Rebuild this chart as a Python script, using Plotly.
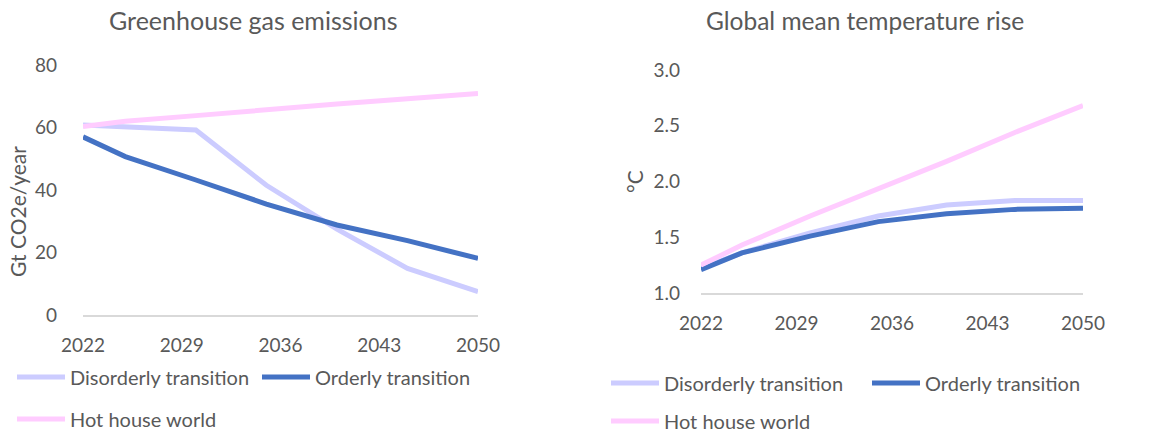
import plotly.graph_objects as go

years = [2022, 2025, 2030, 2035, 2040, 2045, 2050]
tick_years = [2022, 2029, 2036, 2043, 2050]

# Greenhouse gas emissions, Gt CO2e/year
ghg_disorderly = [60.8, 60.3, 59.2, 41.5, 27.5, 14.9, 7.5]
ghg_orderly = [57.0, 50.7, 43.2, 35.5, 28.8, 23.8, 18.1]
ghg_hothouse = [60.3, 62.0, 63.8, 65.8, 67.5, 69.2, 70.9]

# Global mean temperature rise, °C
temp_disorderly = [1.22, 1.36, 1.54, 1.69, 1.79, 1.83, 1.83]
temp_orderly = [1.21, 1.36, 1.51, 1.64, 1.71, 1.75, 1.76]
temp_hothouse = [1.25, 1.43, 1.69, 1.93, 2.18, 2.44, 2.68]

names = ["Disorderly transition", "Orderly transition", "Hot house world"]
colors = ["#CCCCFF", "#4472C4", "#FFCCFF"]

W, H = 1176, 434
TXT = "#595959"
FONT = "Lato"


def px_x(p):
    return p / W


def px_y(p):
    return 1 - p / H


fig = go.Figure()

left = [ghg_disorderly, ghg_orderly, ghg_hothouse]
right = [temp_disorderly, temp_orderly, temp_hothouse]
for i, (vals, name, col) in enumerate(zip(left, names, colors)):
    fig.add_trace(go.Scatter(
        x=years, y=vals, name=name, mode="lines",
        line=dict(color=col, width=5),
        xaxis="x", yaxis="y", legend="legend" if i == 0 else f"legend{i + 1}",
        showlegend=True,
    ))
for i, (vals, name, col) in enumerate(zip(right, names, colors)):
    fig.add_trace(go.Scatter(
        x=years, y=vals, name=name, mode="lines",
        line=dict(color=col, width=5),
        xaxis="x2", yaxis="y2", legend=f"legend{i + 4}",
        showlegend=True,
    ))

axis_font = dict(family=FONT, size=19, color=TXT)
xcommon = dict(
    tickvals=tick_years, ticktext=[str(t) for t in tick_years],
    showgrid=False, zeroline=False, showline=True, linecolor="#D9D9D9", linewidth=1.5,
    ticks="", tickfont=axis_font, ticklabelstandoff=12, fixedrange=True, automargin=False,
)
ycommon = dict(
    showgrid=False, zeroline=False, showline=False, ticks="",
    tickfont=axis_font, fixedrange=True, automargin=False,
)

# one single-entry legend per item so the wrapping matches the original
legend_pos = [
    (12, 377), (257, 377), (12, 419),
    (606, 383), (867, 383), (606, 421),
]
legends = {}
for i, (lx, ly) in enumerate(legend_pos):
    key = "legend" if i == 0 else f"legend{i + 1}"
    legends[key] = dict(
        x=px_x(lx), y=px_y(ly), xanchor="left", yanchor="middle",
        orientation="h", bgcolor="rgba(0,0,0,0)", borderwidth=0,
        font=dict(family=FONT, size=20, color=TXT),
        itemwidth=48, tracegroupgap=0, visible=True,
    )

fig.update_layout(
    width=W, height=H,
    margin=dict(l=0, r=0, t=0, b=0, autoexpand=False),
    showlegend=True,
    paper_bgcolor="white", plot_bgcolor="white",
    font=dict(family=FONT, color=TXT),
    xaxis=dict(domain=[px_x(83), px_x(478)], range=[2022, 2050], anchor="y", **xcommon),
    yaxis=dict(domain=[px_y(315), px_y(65)], range=[0, 80], anchor="x",
               tickvals=[0, 20, 40, 60, 80], ticklabelstandoff=25, **ycommon),
    xaxis2=dict(domain=[px_x(701), px_x(1083)], range=[2022, 2050], anchor="y2", **xcommon),
    yaxis2=dict(domain=[px_y(293), px_y(70)], range=[1.0, 3.0], anchor="x2",
                tickvals=[1.0, 1.5, 2.0, 2.5, 3.0], tickformat=".1f",
                ticklabelstandoff=20, **ycommon),
    annotations=[
        dict(text="Greenhouse gas emissions", x=px_x(253), y=px_y(20), xref="paper", yref="paper",
             xanchor="center", yanchor="middle",
             showarrow=False, font=dict(family=FONT, size=25, color=TXT)),
        dict(text="Global mean temperature rise", x=px_x(865), y=px_y(20), xref="paper", yref="paper",
             xanchor="center", yanchor="middle",
             showarrow=False, font=dict(family=FONT, size=24.5, color=TXT)),
        dict(text="Gt CO2e/year", x=px_x(17), y=px_y(212), xref="paper", yref="paper",
             xanchor="center", yanchor="middle",
             showarrow=False, textangle=-90, font=dict(family=FONT, size=21, color=TXT)),
        dict(text="°C", x=px_x(634), y=px_y(182), xref="paper", yref="paper",
             xanchor="center", yanchor="middle",
             showarrow=False, textangle=-90, font=dict(family=FONT, size=21, color=TXT)),
    ],
    **legends,
)

# the page's default 8px body margin would push the figure off the window
fig.write_html(
    "out.html",
    config={"displayModeBar": False},
    post_script="document.body.style.margin = '0px';",
)
